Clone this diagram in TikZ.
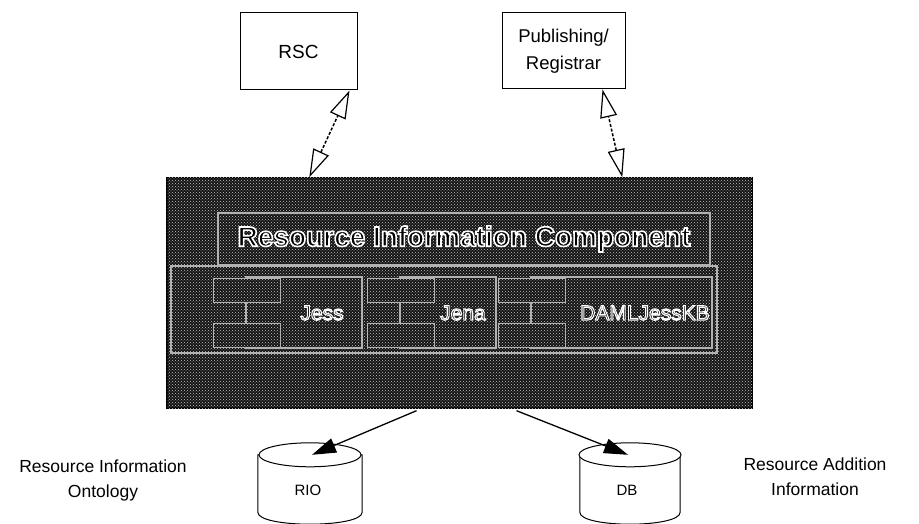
\documentclass[tikz,border=0pt]{standalone}
\usepackage{fontspec}
\setmainfont{Liberation Sans}
\usetikzlibrary{arrows.meta,patterns,calc}
% outlined lettering: black glyphs with a light edge
\newcommand\edged[2]{\special{pdf:literal direct 2 Tr #1 w 1 1 1 RG}#2\special{pdf:literal direct 0 Tr}}

\begin{document}
\begin{tikzpicture}[x=1pt,y=-1pt,
  plainbox/.style={draw=black, line width=1pt, fill=white, inner sep=0pt},
  stipple/.style={fill=black!92, postaction={pattern=crosshatch dots, pattern color=white!78!black}},
  ricbox/.style={stipple, draw=black, line width=1.4pt, inner sep=0pt},
  frame/.style={draw=white!70!black, line width=1.1pt, inner sep=0pt},
  tabbox/.style={stipple, draw=white!70!black, line width=1pt, inner sep=0pt,
    minimum width=67pt, minimum height=24pt},
  complabel/.style={font=\fontsize{21}{24}\selectfont, inner sep=0pt},
  dlink/.style={line width=1.5pt, dash pattern=on 3pt off 1.8pt,
    {Triangle[open, length=28pt, width=17pt, line width=1.2pt]}-{Triangle[open, length=28pt, width=17pt, line width=1.2pt]}},
  slink/.style={line width=1.3pt, -{Triangle[length=24pt, width=15pt]}},
  cyl/.style={draw=black, line width=1pt, fill=white},
  sidelabel/.style={font=\fontsize{17.5}{25}\selectfont, align=center, inner sep=0pt},
]
\useasboundingbox (0,0) rectangle (919,524);

% upper services
\node[plainbox, minimum width=117pt, minimum height=77pt,
      font=\fontsize{19}{23}\selectfont] (rsc) at (298.5,51.5) {RSC};
\node[plainbox, minimum width=123pt, minimum height=76pt, align=center,
      font=\fontsize{18.5}{27}\selectfont] (pub) at (563.5,51) {Publishing/\\Registrar};

% resource information component
\node[ricbox, minimum width=585pt, minimum height=230pt] (ric) at (459.5,293) {};
\node[frame, minimum width=492pt, minimum height=52pt] (ttl) at (464,239) {};
\node[inner sep=0pt, font=\fontsize{28}{32}\selectfont\bfseries] (ttltext) at (ttl.center)
  {\edged{1.6}{Resource Information Component}};
\node[frame, minimum width=546pt, minimum height=87pt] (cmp) at (444,309.5) {};

% Jess
\node[frame, minimum width=116pt, minimum height=71pt] (jessbody) at (304,312.5) {};
\node[tabbox] (jesstaba) at (246.5,290) {};
\node[tabbox] (jesstabb) at (246.5,335) {};
\node[complabel] (jess) at (322,313) {\edged{1.1}{Jess}};
% Jena
\node[frame, minimum width=96pt, minimum height=71pt] (jenabody) at (448,312.5) {};
\node[tabbox] (jenataba) at (400.5,290) {};
\node[tabbox] (jenatabb) at (400.5,335) {};
\node[complabel] (jena) at (463,313) {\edged{1.1}{Jena}};
% DAMLJessKB
\node[frame, minimum width=181pt, minimum height=71pt] (damlbody) at (621.5,312.5) {};
\node[tabbox] (damltaba) at (531.5,290) {};
\node[tabbox] (damltabb) at (531.5,335) {};
\node[complabel] (daml) at (645,313) {\edged{1.1}{DAMLJessKB}};

% data stores
\node[minimum width=104pt, minimum height=81pt, inner sep=0pt] (rio) at (310,483.5) {};
\node[minimum width=100pt, minimum height=81pt, inner sep=0pt] (db) at (630,483.5) {};
\foreach \s in {rio,db}{
  \draw[cyl] ($(\s.north west)+(0,12)$) -- ($(\s.south west)+(0,-12)$)
    .. controls +(0,16) and +(0,16) .. ($(\s.south east)+(0,-12)$)
    -- ($(\s.north east)+(0,12)$) -- cycle;
  \draw[cyl] ($(\s.north)+(0,12)$) ellipse [x radius=51, y radius=12];
}
\node[font=\fontsize{15}{18}\selectfont, inner sep=0pt] (rioname) at ($(rio.center)+(-2,7)$) {RIO};
\node[font=\fontsize{15}{18}\selectfont, inner sep=0pt] (dbname) at ($(db.center)+(-3,7)$) {DB};

\node[sidelabel] (riolbl) at (103,480) {Resource Information\\Ontology};
\node[sidelabel] (dblbl) at (815,477) {Resource Addition\\Information};

% connectors
\draw[dlink] ($(ric.north west)+(143,0)$) -- ($(rsc.south west)+(110,0)$);
\draw[dlink] ($(ric.north west)+(456,0)$) -- ($(pub.south west)+(101,0)$);
\draw[slink] ($(ric.south)+(-43,2)$) -- ($(rio.north)+(2,12)$);
\draw[slink] ($(ric.south)+(57,2)$) -- ($(db.north)+(-2,12)$);
\end{tikzpicture}
\end{document}
